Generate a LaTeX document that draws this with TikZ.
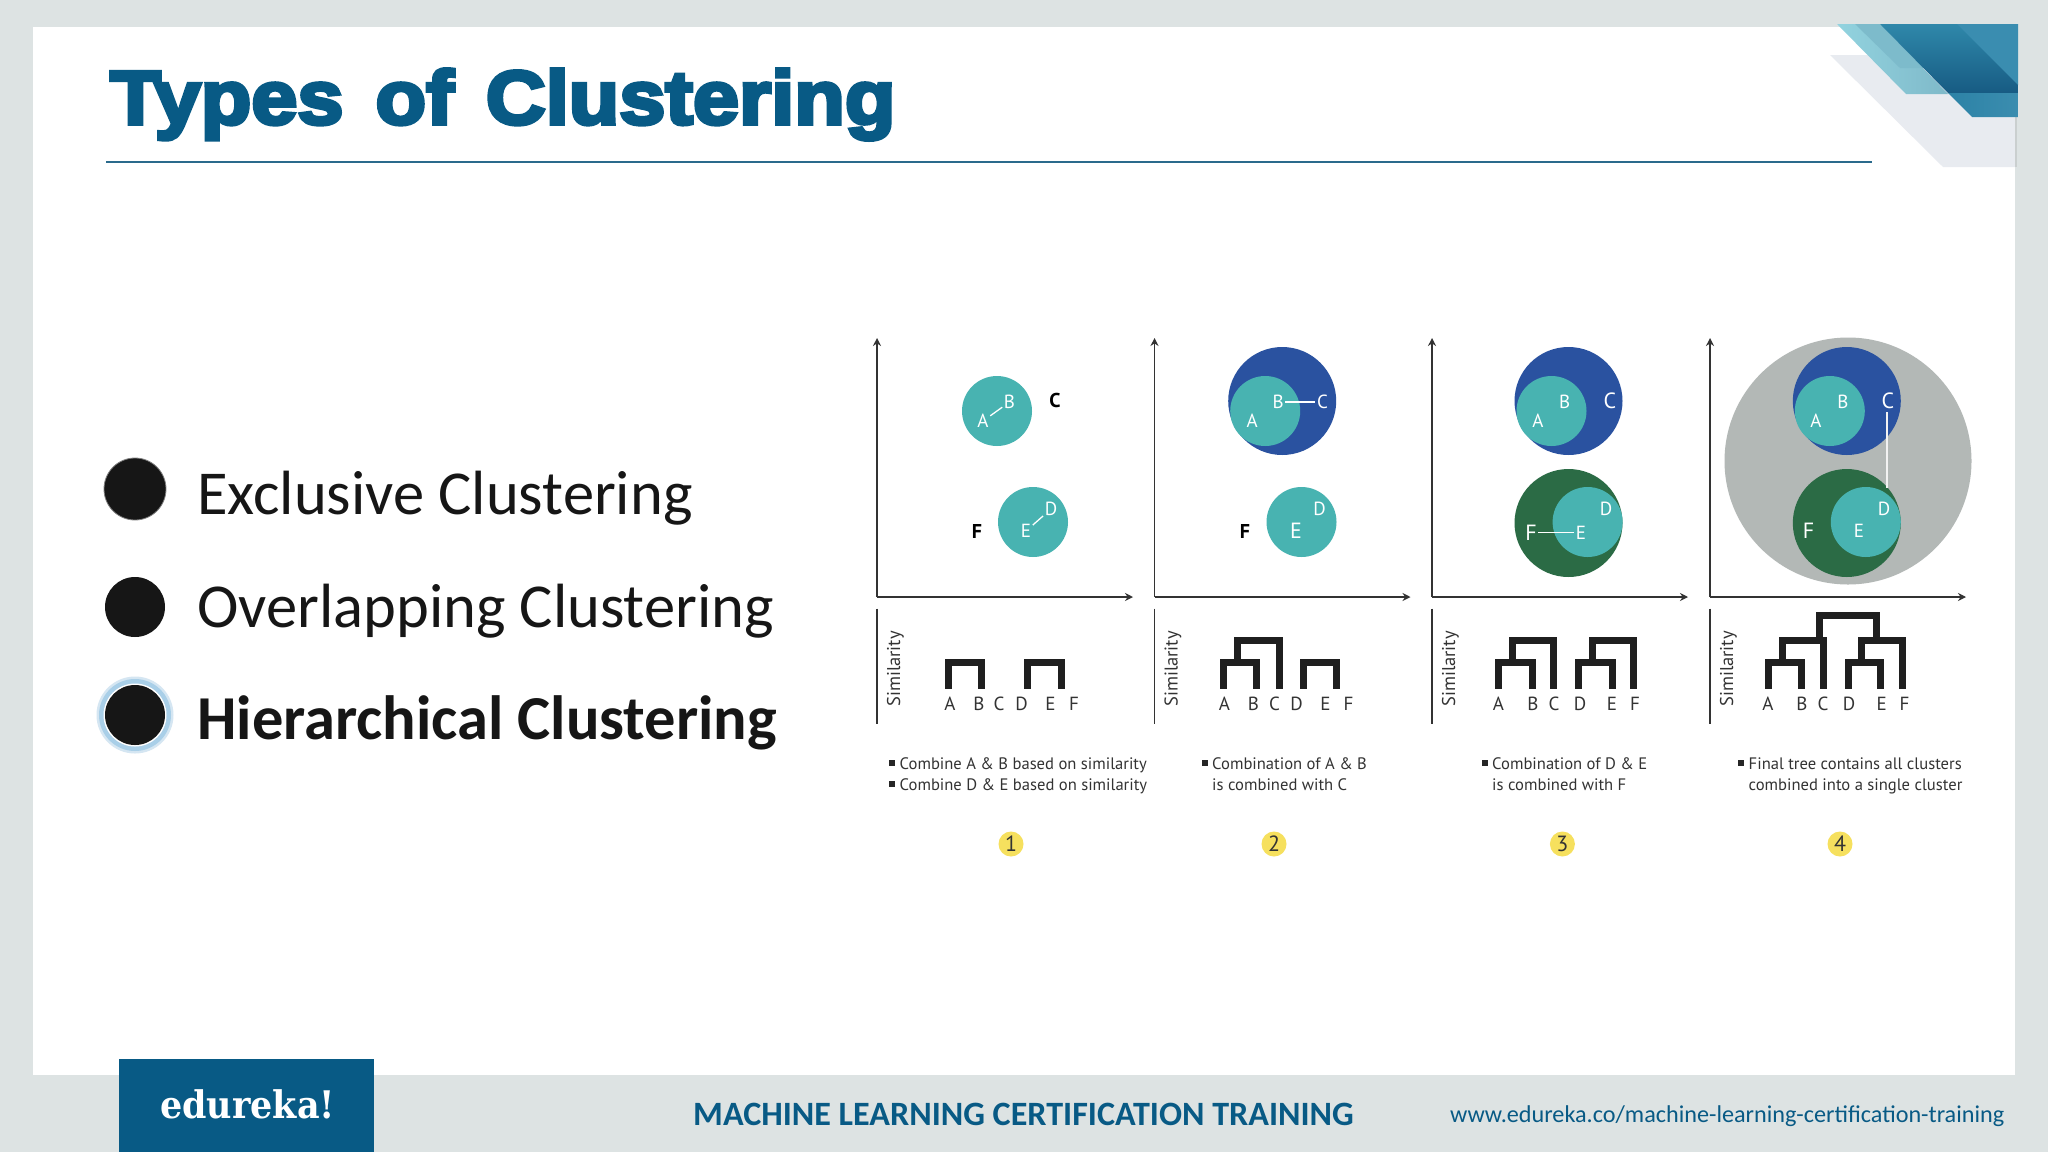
\documentclass[tikz,border=0pt]{standalone}
\usepackage{fontspec}
\usetikzlibrary{arrows.meta}
\setmainfont{Carlito}
\newfontfamily\titlefont[FakeBold=5,FakeStretch=1.09]{Liberation Sans Bold}
\newfontfamily\logofont[FakeStretch=.92]{DejaVu Serif}
\newfontfamily\capfont{PT Sans}
\definecolor{bgc}{HTML}{DDE3E3}
\definecolor{navy}{HTML}{085A85}
\definecolor{ruleblue}{HTML}{2A6A8C}
\definecolor{tealc}{HTML}{48B3B1}
\definecolor{bluec}{HTML}{2A52A0}
\definecolor{greenc}{HTML}{2B6B45}
\definecolor{grayc}{HTML}{B3B8B6}
\definecolor{yellowc}{HTML}{F6E05E}
\definecolor{inkc}{HTML}{161616}
\definecolor{axisc}{HTML}{333333}
\definecolor{palegray}{HTML}{E8EBF0}
\definecolor{lt1}{HTML}{92D3DF}
\definecolor{lt2}{HTML}{7FB9C9}
\definecolor{lt3}{HTML}{7DBBCB}
\definecolor{dk1}{HTML}{2F88AA}
\definecolor{dk2}{HTML}{175B83}
\definecolor{dk3}{HTML}{3A8DB0}
\definecolor{lo1}{HTML}{2C82A6}
\definecolor{lo2}{HTML}{3B8DAF}
\definecolor{glow1}{HTML}{D5E6F2}
\definecolor{glow2}{HTML}{A9CFE8}
\tikzset{
  wl/.style={text=white,font=\capfont\fontsize{19}{19}\selectfont,inner sep=1.5pt,anchor=center},
  bl/.style={text=black,font=\capfont\bfseries\fontsize{20}{20}\selectfont,inner sep=1.5pt,anchor=center},
  link/.style={white,line width=1.3pt},
  axisline/.style={axisc,line width=1.5pt,-{Stealth[length=8pt,width=8pt]}},
  plainaxis/.style={axisc,line width=1.5pt},
  brk/.style={black!88,line width=7pt,line join=miter},
  dl/.style={text=axisc,font=\capfont\fontsize{19}{19}\selectfont,inner sep=0pt,anchor=center},
  simil/.style={text=axisc,font=\capfont\fontsize{18.5}{18.5}\selectfont,rotate=90,inner sep=0pt,anchor=center},
  capt/.style={text=axisc,font=\capfont\fontsize{16.6}{16.6}\selectfont,inner sep=0pt,anchor=base west},
  badge/.style={circle,fill=yellowc,minimum size=25pt,inner sep=0pt,text=axisc,font=\capfont\fontsize{22}{22}\selectfont},
  sq/.style={fill=black!85},
  bullettext/.style={text=inkc,inner sep=0pt,anchor=base west,font=\fontsize{62.5}{62.5}\selectfont},
}
\newcommand{\axes}[1]{%
  \coordinate (#1o) at (0,597);
  \coordinate (#1t) at (0,338);
  \coordinate (#1r) at (256,597);
  \coordinate (#1s) at (0,608.6);
  \coordinate (#1u) at (0,723.6);
  \draw[axisline] (#1o) -- (#1t);
  \draw[axisline] (#1o) -- (#1r);
  \draw[plainaxis] (#1s) -- (#1u);
  \node[simil] (#1sim) at (18.5,669) {Similarity};
}
\newcommand{\brkt}[4]{\draw[brk] (#1,#3) -- (#1,#2) -- (#4,#2) -- (#4,688.6);}
\begin{document}
\begin{tikzpicture}[x=1pt,y=-1pt]
\useasboundingbox (0,0) rectangle (2048,1152);
\fill[bgc] (0,0) rectangle (2048,1152);
\fill[white] (33,27) rectangle (2015,1075);

% corner decoration
\fill[palegray] (1830,55) -- (2015,55) -- (2015,167) -- (1943,167) -- cycle;
\fill[bgc!80!gray] (2015,117) rectangle (2017,167);
\shade[left color=lt1,right color=lt2] (1837,24) -- (1880,24) -- (1948,94) -- (1906,94) -- cycle;
\fill[lt3] (1855,24) -- (1880,24) -- (1924,68) -- (1900,68) -- cycle;
\shade[top color=dk1,bottom color=dk2] (1880,24) -- (2018,24) -- (2018,93) -- (1948,93) -- cycle;
\fill[dk3] (1957,24) -- (2018,24) -- (2018,85) -- cycle;
\shade[left color=lo1,right color=lo2] (1948,93) -- (2018,93) -- (2018,117) -- (1972,117) -- cycle;

% title
\node[text=navy,inner sep=0pt,anchor=base west,font=\titlefont\fontsize{76}{76}\selectfont] (title) at (110,124) {Types\hspace{.12em} of\hspace{.12em} Clustering};
\coordinate (ruleL) at (106,162);
\coordinate (ruleR) at (1872,162);
\draw[ruleblue,line width=2pt] (ruleL) -- (ruleR);

% bullets
\fill[inkc] (135,489) circle[radius=31pt];
\draw[gray,line width=.8pt] (135,489) circle[radius=31pt];
\fill[inkc] (135,607) circle[radius=30pt];
\fill[glow1] (135,715) circle[radius=38.5pt];
\fill[glow2] (135,715) circle[radius=36pt];
\fill[white] (135,715) circle[radius=31.5pt];
\fill[inkc] (135,715) circle[radius=30pt];
\node[bullettext] (b1) at (197,514) {Exclusive Clustering};
\node[bullettext] (b2) at (197,627) {Overlapping Clustering};
\node[bullettext,font=\bfseries\fontsize{62.5}{62.5}\selectfont] (b3) at (197,739) {Hierarchical Clustering};

% panel 1
\begin{scope}[shift={(877,0)}]
  \axes{p}
  \fill[tealc] (120,411) circle[radius=35pt];
  \fill[tealc] (156,522) circle[radius=35pt];
  \node[wl] (aa) at (106,421) {A};
  \node[wl] (ab) at (132.5,402) {B};
  \node[bl] (ac) at (178,400) {C};
  \node[bl] (af) at (100,531) {F};
  \node[wl] (ae) at (149,531) {E};
  \node[wl] (ad) at (174,509) {D};
  \draw[link] (aa) -- (ab);
  \draw[link] (ae) -- (ad);
  \brkt{71}{662.3}{688.6}{104.4}
  \brkt{150.6}{662.3}{688.6}{184}
  \node[dl] (da) at (73,704) {A};
  \node[dl] (db) at (102,704) {B};
  \node[dl] (dc) at (122,704) {C};
  \node[dl] (dd) at (144.7,704) {D};
  \node[dl] (de) at (173.5,704) {E};
  \node[dl] (df) at (197,704) {F};
\end{scope}
\fill[sq] (889,760) rectangle (895,766);
\fill[sq] (889,781) rectangle (895,787);
\node[capt] (c1a) at (899.5,769) {Combine A \& B based on similarity};
\node[capt] (c1b) at (899.5,790) {Combine D \& E based on similarity};
\node[badge] (n1) at (1011,844) {1};

% panel 2
\begin{scope}[shift={(1154.5,0)}]
  \axes{q}
  \fill[bluec] (127.7,401) circle[radius=54pt];
  \fill[tealc] (110.7,411) circle[radius=35pt];
  \fill[tealc] (147,522) circle[radius=35pt];
  \node[wl] (ba) at (97.6,421) {A};
  \node[wl] (bb) at (123.6,402) {B};
  \node[wl] (bc) at (168,402) {C};
  \node[bl] (bf) at (90.5,531) {F};
  \node[wl,font=\capfont\fontsize{22}{22}\selectfont] (be) at (141.5,531) {E};
  \node[wl] (bd) at (165,509) {D};
  \draw[link] (bb) -- (bc);
  \brkt{69}{662.3}{688.6}{102}
  \brkt{83.3}{640}{659}{125.4}
  \brkt{148.8}{662.3}{688.6}{182}
  \node[dl] (ea) at (70,704) {A};
  \node[dl] (eb) at (99,704) {B};
  \node[dl] (ec) at (120,704) {C};
  \node[dl] (ed) at (142,704) {D};
  \node[dl] (ee) at (171,704) {E};
  \node[dl] (ef) at (194,704) {F};
\end{scope}
\fill[sq] (1202,760) rectangle (1208,766);
\node[capt] (c2a) at (1212,769) {Combination of A \& B};
\node[capt] (c2b) at (1212,790) {is combined with C};
\node[badge] (n2) at (1274,844) {2};

% panel 3
\begin{scope}[shift={(1432,0)}]
  \axes{r}
  \fill[bluec] (136.5,401) circle[radius=54pt];
  \fill[tealc] (119.5,411) circle[radius=35pt];
  \fill[greenc] (136.5,523) circle[radius=54pt];
  \fill[tealc] (155.6,522) circle[radius=35pt];
  \node[wl] (ca) at (106,421) {A};
  \node[wl] (cb) at (132.6,402) {B};
  \node[wl,font=\capfont\fontsize{22}{22}\selectfont] (cc) at (177.8,401) {C};
  \node[wl,font=\capfont\fontsize{22}{22}\selectfont] (cf) at (99,532.5) {F};
  \node[wl] (ce) at (149,532.5) {E};
  \node[wl] (cd) at (174,509) {D};
  \draw[link] (cf) -- (ce);
  \brkt{66.8}{662.3}{688.6}{100}
  \brkt{80.5}{640}{659}{121.7}
  \brkt{146.8}{662.3}{688.6}{180}
  \brkt{160.4}{640}{659}{201.7}
  \node[dl] (fa) at (66.4,704) {A};
  \node[dl] (fb) at (100.8,704) {B};
  \node[dl] (fc) at (122,704) {C};
  \node[dl] (fd) at (148,704) {D};
  \node[dl] (fe) at (180,704) {E};
  \node[dl] (ff) at (203,704) {F};
\end{scope}
\fill[sq] (1482,760) rectangle (1488,766);
\node[capt] (c3a) at (1492,769) {Combination of D \& E};
\node[capt] (c3b) at (1492,790) {is combined with F};
\node[badge] (n3) at (1562.4,844) {3};

% panel 4
\begin{scope}[shift={(1710,0)}]
  \axes{s}
  \fill[grayc] (138,461) circle[radius=123.5pt];
  \fill[bluec] (136.8,401) circle[radius=54pt];
  \fill[tealc] (119.8,411) circle[radius=35pt];
  \fill[greenc] (136.8,523) circle[radius=54pt];
  \fill[tealc] (155.8,522) circle[radius=35pt];
  \node[wl] (ga) at (106,421) {A};
  \node[wl] (gb) at (133,402) {B};
  \node[wl,font=\capfont\fontsize{22}{22}\selectfont] (gc) at (178,401) {C};
  \node[wl,font=\capfont\fontsize{22}{22}\selectfont] (gf) at (98.5,531) {F};
  \node[wl] (ge) at (149,531) {E};
  \node[wl] (gd) at (174,509) {D};
  \coordinate (gc1) at (177,412);
  \coordinate (gc2) at (177,488);
  \draw[white!90!gray,line width=1.3pt] (gc1) -- (gc2);
  \brkt{58.5}{662.3}{688.6}{91.5}
  \brkt{72.6}{640}{659}{113.9}
  \brkt{138.4}{662.3}{688.6}{170.9}
  \brkt{151.2}{640}{659}{192.8}
  \draw[brk] (109.4,637) -- (109.4,615) -- (166,615) -- (166,637);
  \node[dl] (ha) at (57.8,704) {A};
  \node[dl] (hb) at (92,704) {B};
  \node[dl] (hc) at (113,704) {C};
  \node[dl] (hd) at (139,704) {D};
  \node[dl] (he) at (171.7,704) {E};
  \node[dl] (hf) at (194.6,704) {F};
\end{scope}
\fill[sq] (1738,760) rectangle (1744,766);
\node[capt] (c4a) at (1748.5,769) {Final tree contains all clusters};
\node[capt] (c4b) at (1748.5,790) {combined into a single cluster};
\node[badge] (n4) at (1840,844) {4};

% footer
\fill[navy] (119,1059) rectangle (374,1152);
\node[text=white,inner sep=0pt,anchor=base west,font=\logofont\bfseries\fontsize{38}{38}\selectfont] (logo) at (160,1118) {edureka!};
\node[text=navy,inner sep=0pt,anchor=base west,font=\bfseries\fontsize{34.1}{34.1}\selectfont] (foot) at (693,1125) {MACHINE LEARNING CERTIFICATION TRAINING};
\node[text=navy,inner sep=0pt,anchor=base west,font=\fontsize{24.2}{24.2}\selectfont] (url) at (1450,1122) {www.edureka.co/machine-learning-certification-training};
\end{tikzpicture}
\end{document}
